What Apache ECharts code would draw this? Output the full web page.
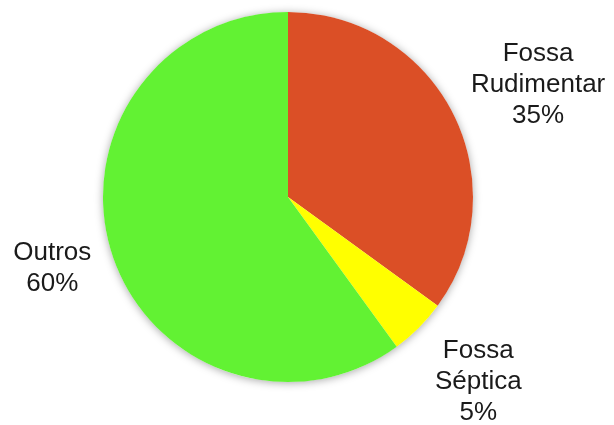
<!DOCTYPE html>
<html>
<head>
<meta charset="utf-8">
<script src="https://cdn.jsdelivr.net/npm/echarts@6/dist/echarts.min.js"></script>
<style>
html, body { margin: 0; padding: 0; background: #fff; }
#main { width: 614px; height: 425px; }
</style>
</head>
<body>
<div id="main"></div>
<script>
var categories = ['Fossa Rudimentar', 'Fossa Séptica', 'Outros'];
var values = [35, 5, 60];
var colors = ['#DB4F26', '#FFFF00', '#62F233'];
// label line lengths per slice (labels sit at the end, line hidden)
var lineLen = [62, 77, 45];
var lineLen2 = [25, 0, 12];

var myChart = echarts.init(document.getElementById('main'));

var pieData = categories.map(function (name, i) {
    return {
        name: name,
        value: values[i],
        itemStyle: { color: colors[i] },
        labelLine: { show: false, length: lineLen[i], length2: lineLen2[i] }
    };
});

var option = {
    backgroundColor: '#ffffff',
    animation: false,
    series: [
        {
            // shadow disc under the pie
            type: 'pie',
            silent: true,
            center: [288, 197],
            radius: 185,
            label: { show: false },
            labelLine: { show: false },
            itemStyle: {
                color: '#ffffff',
                shadowBlur: 9,
                shadowColor: 'rgba(0,0,0,0.35)',
                shadowOffsetY: 1
            },
            data: [{ value: 1, name: '' }]
        },
        {
            type: 'pie',
            center: [288, 197],
            radius: 185,
            startAngle: 90,
            clockwise: true,
            avoidLabelOverlap: false,
            itemStyle: { borderWidth: 0 },
            label: {
                show: true,
                position: 'outside',
                formatter: function (p) {
                    return p.name.replace(' ', '\n') + '\n' + p.value + '%';
                },
                fontFamily: 'Liberation Sans, Arial, sans-serif',
                fontSize: 26,
                lineHeight: 31,
                color: '#1a1a1a'
            },
            labelLayout: function () {
                return { align: 'center', verticalAlign: 'middle' };
            },
            data: pieData
        }
    ]
};
myChart.setOption(option);
window.addEventListener('resize', function () {
    myChart.resize();
});
</script>
</body>
</html>
